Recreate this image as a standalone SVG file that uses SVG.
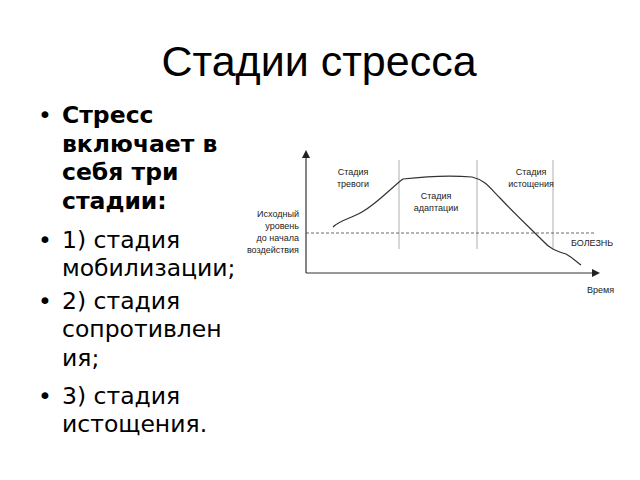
<svg xmlns="http://www.w3.org/2000/svg" width="640" height="480" viewBox="0 0 640 480">
<style>
.t{font-family:"Liberation Sans",Arial,sans-serif;fill:#000}
.b{font-family:"DejaVu Sans",Verdana,sans-serif;font-size:23.5px}
.s{font-size:9px;fill:#222}
.ax{stroke:#333;stroke-width:1.2;fill:none}
.dv{stroke:#999;stroke-width:0.8}
</style>
<defs><marker id="ar" markerWidth="8" markerHeight="8" refX="6" refY="4" orient="auto" markerUnits="userSpaceOnUse"><path d="M0,0L8,4L0,8Z" fill="#222"/></marker></defs>
<rect width="640" height="480" fill="#fff"/>
<g id="title"><text class="t" x="319" y="76" font-size="43" text-anchor="middle">Стадии стресса</text></g>
<g id="bullets" class="t b">
<text x="38" y="123">•</text><text x="38" y="248">•</text><text x="38" y="309">•</text><text x="38" y="404">•</text>
<text x="62" y="123" font-weight="bold">Стресс</text>
<text x="62" y="152" font-weight="bold">включает в</text>
<text x="62" y="180" font-weight="bold">себя три</text>
<text x="62" y="209" font-weight="bold">стадии:</text>
<text x="62" y="248">1) стадия</text>
<text x="62" y="276">мобилизации;</text>
<text x="62" y="309">2) стадия</text>
<text x="62" y="337">сопротивлен</text>
<text x="62" y="366">ия;</text>
<text x="62" y="404">3) стадия</text>
<text x="62" y="432">истощения.</text>
</g>
<g id="connectors">
<line class="ax" x1="306" y1="273" x2="306" y2="152" marker-end="url(#ar)"/>
<line class="ax" x1="306" y1="273" x2="598" y2="273" marker-end="url(#ar)"/>
<line class="dv" x1="399" y1="160" x2="399" y2="249"/>
<line class="dv" x1="477" y1="160" x2="477" y2="249"/>
<line class="dv" x1="553" y1="160" x2="553" y2="249"/>
<line x1="306" y1="233" x2="596" y2="233" stroke="#444" stroke-width="0.8" stroke-dasharray="3,2"/>
<path class="ax" d="M333,227 C340,220 350,219 362,212 C378,203 392,187 403,179 C420,177 450,175 472,177 C485,180 490,188 500,198 C515,214 530,228 542,240 C550,249 556,251 566,254 C573,258 577,262 581,265"/>
</g>
<g id="labels" class="t s">
<text x="353" y="175" text-anchor="middle">Стадия</text><text x="353" y="187" text-anchor="middle">тревоги</text>
<text x="436" y="199" text-anchor="middle">Стадия</text><text x="436" y="211" text-anchor="middle">адаптации</text>
<text x="531" y="175" text-anchor="middle">Стадия</text><text x="531" y="187" text-anchor="middle">истощения</text>
<text x="299" y="217" text-anchor="end">Исходный</text>
<text x="299" y="229" text-anchor="end">уровень</text>
<text x="299" y="241" text-anchor="end">до начала</text>
<text x="299" y="253" text-anchor="end">воздействия</text>
<text x="571" y="246">БОЛЕЗНЬ</text>
<text x="587" y="293">Время</text>
</g>
</svg>
